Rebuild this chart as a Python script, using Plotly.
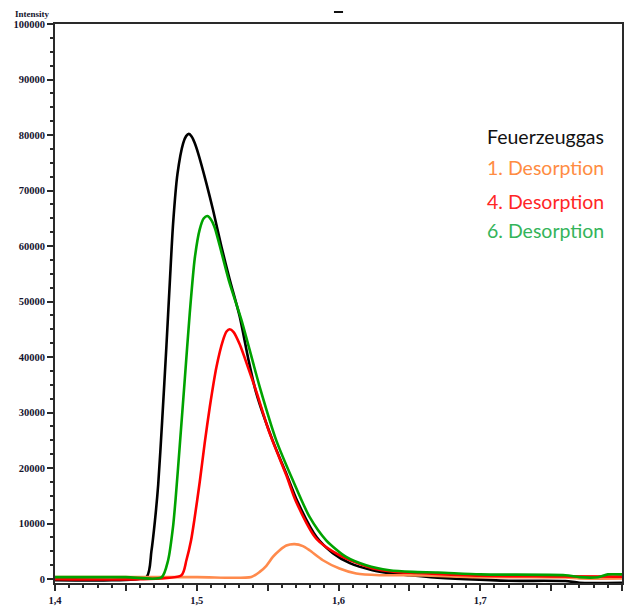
import plotly.graph_objects as go

# Retention time (min) and detector intensity for each trace
black_x = [1.400, 1.440, 1.4646, 1.4680, 1.4705, 1.4728, 1.4756, 1.4786, 1.4810, 1.4833,
           1.4864, 1.4904, 1.4925, 1.4944, 1.4965, 1.4985, 1.5010, 1.5068, 1.5115, 1.5174,
           1.5232, 1.5303, 1.5361, 1.5420, 1.5535, 1.5630, 1.5710, 1.5845, 1.5960, 1.6080,
           1.6240, 1.6360, 1.6500, 1.6650, 1.6900, 1.7200, 1.7600, 1.7700, 1.8000]
black_y = [-200, -200, 400, 5000, 10500, 17000, 28500, 42000, 53500, 64000,
           73000, 78500, 79800, 80200, 79700, 78600, 76700, 71300, 66500, 59900,
           54000, 47300, 40000, 33500, 25000, 19100, 14000, 7570, 4680, 2880,
           1620, 1080, 700, 360, 0, -300, -350, -650, -650]

orange_x = [1.400, 1.500, 1.5385, 1.5444, 1.5491, 1.5537, 1.5585, 1.5632, 1.5690, 1.5749,
            1.5796, 1.5890, 1.6007, 1.6125, 1.6289, 1.6480, 1.6600, 1.6800, 1.7000, 1.7600,
            1.7700, 1.8000]
orange_y = [360, 360, 400, 1300, 2400, 4000, 5200, 6050, 6300, 5950,
            5200, 3400, 1900, 1000, 700, 700, 650, 500, 350, 300,
            100, 100]

red_x = [1.400, 1.460, 1.4892, 1.4927, 1.4960, 1.4985, 1.5021, 1.5056, 1.5092, 1.5139,
         1.5185, 1.5210, 1.5232, 1.5260, 1.5303, 1.5361, 1.5420, 1.5514, 1.5632, 1.5700,
         1.5843, 1.6007, 1.6242, 1.6400, 1.6550, 1.7000, 1.7500, 1.8000]
red_y = [0, 0, 700, 3400, 7000, 11000, 17500, 24500, 31000, 38200,
         43000, 44600, 45000, 44500, 42300, 38200, 33800, 26300, 18700, 14000,
         7300, 4300, 1900, 1300, 1100, 600, 500, 450]

green_x = [1.400, 1.450, 1.4751, 1.4798, 1.4833, 1.4850, 1.4880, 1.4915, 1.4951, 1.4986,
           1.5021, 1.5050, 1.5075, 1.5100, 1.5127, 1.5174, 1.5232, 1.5315, 1.5444, 1.5561,
           1.5678, 1.5796, 1.5913, 1.6054, 1.6195, 1.6359, 1.6523, 1.6700, 1.7000, 1.7600,
           1.7700, 1.7830, 1.7900, 1.8000]
green_y = [350, 350, 300, 3400, 9500, 14200, 24000, 35800, 48000, 57800,
           63000, 65000, 65400, 64800, 63300, 58900, 53300, 46700, 34650, 25000,
           17800, 11200, 7000, 4000, 2500, 1600, 1300, 1200, 850, 700,
           350, 350, 850, 850]

series_names = ["Feuerzeuggas", "1. Desorption", "4. Desorption", "6. Desorption"]
line_colors = ["#000000", "#FF8A4C", "#FF0000", "#00A300"]
label_colors = ["#111111", "#FF8C42", "#FF2626", "#34B45A"]

x_tick_vals = [1.40, 1.45, 1.50, 1.55, 1.60, 1.65, 1.70, 1.75, 1.80]
x_tick_text = ["<b>1,4</b>", "", "<b>1,5</b>", "", "<b>1,6</b>", "", "<b>1,7</b>", "", "<b>1,8</b>"]
y_tick_vals = [0, 10000, 20000, 30000, 40000, 50000, 60000, 70000, 80000, 90000, 100000]
y_tick_text = ["<b>%d</b>" % v for v in y_tick_vals]

fig = go.Figure()
traces = [(black_x, black_y), (orange_x, orange_y), (red_x, red_y), (green_x, green_y)]
for (xs, ys), name, col in zip(traces, series_names, line_colors):
    fig.add_trace(go.Scatter(x=xs, y=ys, mode="lines", name=name,
                             line=dict(color=col, width=2.6, shape="spline", smoothing=0.7),
                             showlegend=False))

tick_font = dict(family="Liberation Serif", size=10.5, color="#14142e")
axis_common = dict(showline=True, linecolor="#2a2a2a", linewidth=2, mirror=True,
                   ticks="outside", tickcolor="#2a2a2a", tickwidth=1.5, ticklen=6,
                   showgrid=False, zeroline=False, tickfont=tick_font)

fig.update_xaxes(range=[1.4, 1.8], tickmode="array", tickvals=x_tick_vals, ticktext=x_tick_text,
                 minor=dict(tick0=1.4, dtick=0.01, ticklen=3, tickcolor="#2a2a2a", ticks="outside"),
                 **axis_common)
fig.update_yaxes(range=[-700, 100000], tickmode="array", tickvals=y_tick_vals, ticktext=y_tick_text,
                 minor=dict(tick0=0, dtick=2500, ticklen=3, tickcolor="#2a2a2a", ticks="outside"),
                 **axis_common)

# Text labels naming each trace, stacked at the upper right
label_y = [0.798, 0.744, 0.683, 0.630]
annotations = []
for name, col, yy in zip(series_names, label_colors, label_y):
    annotations.append(dict(text=name, x=0.758, y=yy, xref="paper", yref="paper",
                            xanchor="left", yanchor="middle", showarrow=False,
                            font=dict(family="Lato", size=19.5, color=col)))
annotations.append(dict(text="<b>Intensity</b>", x=-0.040, y=1.018, xref="paper", yref="paper",
                        xanchor="center", yanchor="middle", showarrow=False,
                        font=dict(family="Liberation Serif", size=9, color="#14142e")))

fig.update_layout(
    width=627, height=610,
    margin=dict(l=55, r=3, t=24, b=27),
    plot_bgcolor="white", paper_bgcolor="white",
    annotations=annotations,
    shapes=[dict(type="rect", xref="paper", yref="paper", x0=0.492, x1=0.508,
                 y0=1.0197, y1=1.0233, fillcolor="#111111", line=dict(width=0))],
)

fig.write_html("out.html")
